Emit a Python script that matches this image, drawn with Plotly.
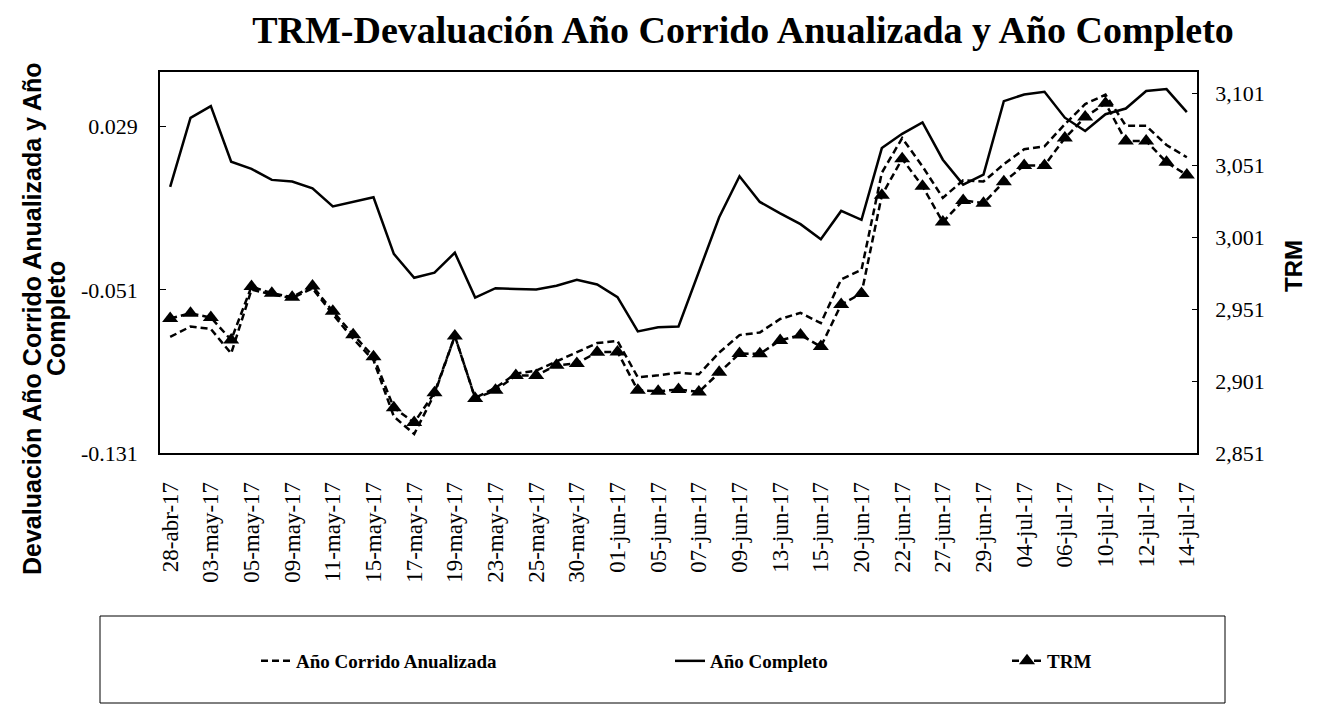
import plotly.graph_objects as go

# Business days shown on the category axis
dates = [
    "28-abr-17", "02-may-17", "03-may-17", "04-may-17", "05-may-17", "08-may-17",
    "09-may-17", "10-may-17", "11-may-17", "12-may-17", "15-may-17", "16-may-17",
    "17-may-17", "18-may-17", "19-may-17", "22-may-17", "23-may-17", "24-may-17",
    "25-may-17", "26-may-17", "30-may-17", "31-may-17", "01-jun-17", "02-jun-17",
    "05-jun-17", "06-jun-17", "07-jun-17", "08-jun-17", "09-jun-17", "12-jun-17",
    "13-jun-17", "14-jun-17", "15-jun-17", "16-jun-17", "20-jun-17", "21-jun-17",
    "22-jun-17", "23-jun-17", "27-jun-17", "28-jun-17", "29-jun-17", "30-jun-17",
    "04-jul-17", "05-jul-17", "06-jul-17", "07-jul-17", "10-jul-17", "11-jul-17",
    "12-jul-17", "13-jul-17", "14-jul-17",
]

# Year-to-date devaluation, annualised (left axis)
ano_corrido = [
    -0.0741, -0.0690, -0.0702, -0.0822, -0.0509, -0.0533, -0.0550, -0.0503,
    -0.0630, -0.0750, -0.0855, -0.1131, -0.1217, -0.1021, -0.0736, -0.1040,
    -0.0990, -0.0921, -0.0906, -0.0860, -0.0818, -0.0771, -0.0761, -0.0939,
    -0.0929, -0.0916, -0.0924, -0.0818, -0.0732, -0.0719, -0.0653, -0.0623,
    -0.0673, -0.0459, -0.0412, 0.0064, 0.0234, 0.0095, -0.0059, 0.0027,
    0.0021, 0.0106, 0.0179, 0.0194, 0.0302, 0.0401, 0.0447, 0.0295,
    0.0294, 0.0200, 0.0140,
]

# Twelve-month devaluation (left axis)
ano_completo = [
    -0.0005, 0.0333, 0.0391, 0.0118, 0.0083, 0.0029, 0.0021, -0.0012,
    -0.0101, -0.0080, -0.0056, -0.0334, -0.0451, -0.0426, -0.0328, -0.0548,
    -0.0502, -0.0506, -0.0508, -0.0490, -0.0461, -0.0484, -0.0546, -0.0714,
    -0.0694, -0.0690, -0.0424, -0.0154, 0.0047, -0.0079, -0.0135, -0.0188,
    -0.0262, -0.0123, -0.0167, 0.0185, 0.0255, 0.0311, 0.0128, 0.0006,
    0.0055, 0.0415, 0.0448, 0.0461, 0.0334, 0.0269, 0.0351, 0.0379,
    0.0465, 0.0474, 0.0361,
]

# Exchange rate TRM, COP per USD (right axis)
trm = [
    2944.4, 2948.0, 2945.1, 2929.5, 2966.6, 2962.0, 2959.2, 2966.9,
    2949.4, 2933.2, 2917.9, 2882.4, 2872.1, 2892.9, 2932.3, 2888.9,
    2894.5, 2904.8, 2904.9, 2911.9, 2913.2, 2921.0, 2921.2, 2894.5,
    2893.9, 2895.1, 2893.4, 2907.1, 2920.1, 2919.9, 2929.2, 2933.0,
    2924.9, 2954.1, 2961.8, 3030.0, 3055.3, 3036.2, 3011.4, 3026.4,
    3024.5, 3039.3, 3050.7, 3050.7, 3069.7, 3084.3, 3093.9, 3067.7,
    3067.7, 3052.9, 3044.1,
]

left_range = [-0.131, 0.0558]
left_step = 0.08
right_range = [2851, 3115.6]
right_step = 50

# tick values for both value axes, labelled with a plain hyphen minus
left_ticks = [round(left_range[0] + k * left_step, 3) for k in range(3)]
left_text = ["%.3f" % v for v in left_ticks]
right_ticks = [right_range[0] + k * right_step for k in range(6)]
right_text = ["{:,}".format(v) for v in right_ticks]

serif = "Liberation Serif, Times New Roman, serif"
sans = "Liberation Sans, Arial, sans-serif"
dash = "7px,4px"

fig = go.Figure()

fig.add_trace(go.Scatter(
    x=dates, y=ano_corrido, name="Año Corrido Anualizada", mode="lines",
    line=dict(color="black", width=2.5, dash=dash), legend="legend",
))
fig.add_trace(go.Scatter(
    x=dates, y=ano_completo, name="Año Completo", mode="lines",
    line=dict(color="black", width=2.5), legend="legend2",
))
fig.add_trace(go.Scatter(
    x=dates, y=trm, name="TRM", mode="lines+markers", yaxis="y2",
    line=dict(color="black", width=2.5, dash=dash),
    marker=dict(symbol="triangle-up", size=14, color="black"),
    legend="legend3",
))

# horizontal line at zero with category-boundary ticks
zero_pos = (0 - left_range[0]) / (left_range[1] - left_range[0])

# plot area in pixels: x 160..1197, y 72..453
def px_x(p):
    return (p - 160) / 1037


def px_y(p):
    return (453 - p) / 381


legend_font = dict(family=serif, size=19, color="black", weight="bold")
legend_y = px_y(661)
legend_common = dict(orientation="h", y=legend_y, xanchor="left",
                     yanchor="middle", font=legend_font,
                     bgcolor="rgba(0,0,0,0)")

axis_title_font = dict(family=sans, size=25, color="black")

fig.update_layout(
    width=1321, height=710,
    margin=dict(l=160, r=124, t=72, b=257),
    paper_bgcolor="white", plot_bgcolor="white",
    showlegend=True,
    title=dict(
        text="<b>TRM-Devaluación Año Corrido Anualizada y Año Completo</b>",
        font=dict(family=serif, size=38, color="black"),
        x=743 / 1321, xanchor="center", xref="container",
        y=1 - 30 / 710, yanchor="middle", yref="container",
    ),
    xaxis=dict(
        type="category", categoryorder="array", categoryarray=dates,
        range=[-0.5, len(dates) - 0.5],
        tickmode="array", tickvals=dates[::2], ticktext=dates[::2],
        tickangle=-90, ticks="", ticklabelstandoff=18,
        tickfont=dict(family=serif, size=23, color="black"),
        showline=True, linecolor="black", linewidth=1.5, mirror=True,
        showgrid=False, zeroline=False,
    ),
    xaxis2=dict(
        overlaying="x", anchor="free", position=zero_pos,
        range=[-0.5, len(dates) - 0.5], tick0=-0.5, dtick=1,
        ticks="outside", ticklen=5, tickcolor="black", tickwidth=1,
        showticklabels=False, showline=True, linecolor="black", linewidth=1,
        showgrid=False, zeroline=False,
    ),
    yaxis=dict(
        range=left_range, tickmode="array", tickvals=left_ticks,
        ticktext=left_text, ticklabelstandoff=16,
        ticks="inside", ticklen=6, tickcolor="black",
        tickfont=dict(family=serif, size=22, color="black"),
        showline=True, linecolor="black", linewidth=1.5,
        showgrid=False, zeroline=False,
    ),
    yaxis2=dict(
        overlaying="y", side="right", range=right_range,
        tickmode="array", tickvals=right_ticks, ticktext=right_text,
        ticklabelstandoff=12,
        ticks="inside", ticklen=5, tickcolor="black",
        tickfont=dict(family=serif, size=22, color="black"),
        showline=True, linecolor="black", linewidth=1.5,
        showgrid=False, zeroline=False,
    ),
    legend=dict(x=px_x(256), **legend_common),
    legend2=dict(x=px_x(670), **legend_common),
    legend3=dict(x=px_x(1007), **legend_common),
    shapes=[dict(
        type="rect", xref="paper", yref="paper",
        x0=px_x(100), x1=px_x(1225), y0=px_y(616), y1=px_y(703),
        line=dict(color="black", width=1),
    )],
    annotations=[
        # left value-axis title, set as two tight lines
        dict(
            text="<b>Devaluación Año Corrido Anualizada y Año</b>",
            xref="paper", yref="paper", x=px_x(32), y=px_y(319),
            xanchor="center", yanchor="middle", textangle=-90, showarrow=False,
            font=axis_title_font,
        ),
        dict(
            text="<b>Completo</b>",
            xref="paper", yref="paper", x=px_x(56), y=px_y(319),
            xanchor="center", yanchor="middle", textangle=-90, showarrow=False,
            font=axis_title_font,
        ),
        dict(
            text="<b>TRM</b>", xref="paper", yref="paper",
            x=px_x(1293), y=px_y(266),
            xanchor="center", yanchor="middle", textangle=-90, showarrow=False,
            font=dict(family=sans, size=24, color="black"),
        ),
    ],
)

fig.write_html("out.html")
